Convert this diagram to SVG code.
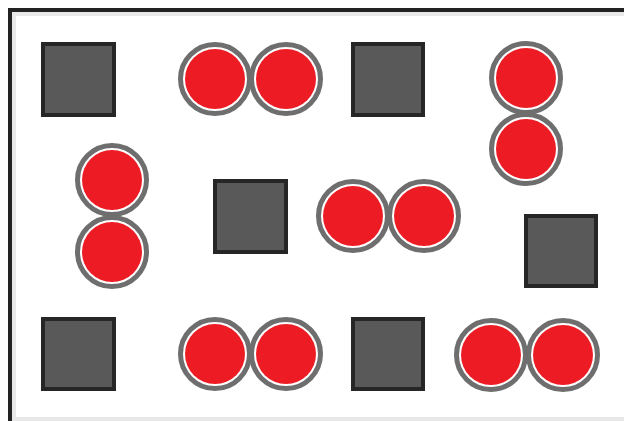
<svg xmlns="http://www.w3.org/2000/svg" width="624" height="421" viewBox="0 0 624 421">
<style>
.sq{fill:#595959;stroke:#262626;stroke-width:4}
.ring{fill:#ffffff;stroke:#6e6e6e;stroke-width:5}
.dot{fill:#ed1c24}
</style>
<defs>
<g id="c"><circle class="ring" r="34.5"/><circle class="dot" r="30"/></g>
</defs>
<rect width="624" height="421" fill="#ffffff"/>
<g id="frame">
<rect x="8" y="8" width="616" height="4" fill="#222222"/>
<rect x="8" y="8" width="4" height="413" fill="#222222"/>
<rect x="12" y="12" width="612" height="4" fill="#e8e8e8"/>
<rect x="12" y="12" width="4" height="409" fill="#e8e8e8"/>
<rect x="12" y="417" width="612" height="4" fill="#e8e8e8"/>
</g>
<g id="square1"><rect class="sq" x="43" y="44" width="71" height="71"/></g>
<g id="square2"><rect class="sq" x="353" y="44" width="70" height="71"/></g>
<g id="square3"><rect class="sq" x="215" y="181" width="71" height="71"/></g>
<g id="square4"><rect class="sq" x="526" y="216" width="70" height="70"/></g>
<g id="square5"><rect class="sq" x="43" y="319" width="71" height="70"/></g>
<g id="square6"><rect class="sq" x="353" y="319" width="70" height="70"/></g>
<g id="pair1"><use href="#c" x="215" y="79"/><use href="#c" x="286" y="79"/></g>
<g id="pair2"><use href="#c" x="526" y="78"/><use href="#c" x="526" y="149"/></g>
<g id="pair3"><use href="#c" x="112" y="180"/><use href="#c" x="112" y="252"/></g>
<g id="pair4"><use href="#c" x="353" y="216"/><use href="#c" x="424" y="216"/></g>
<g id="pair5"><use href="#c" x="215" y="354"/><use href="#c" x="286" y="354"/></g>
<g id="pair6"><use href="#c" x="491" y="355"/><use href="#c" x="563" y="355"/></g>
<g id="connectors"></g>
</svg>
